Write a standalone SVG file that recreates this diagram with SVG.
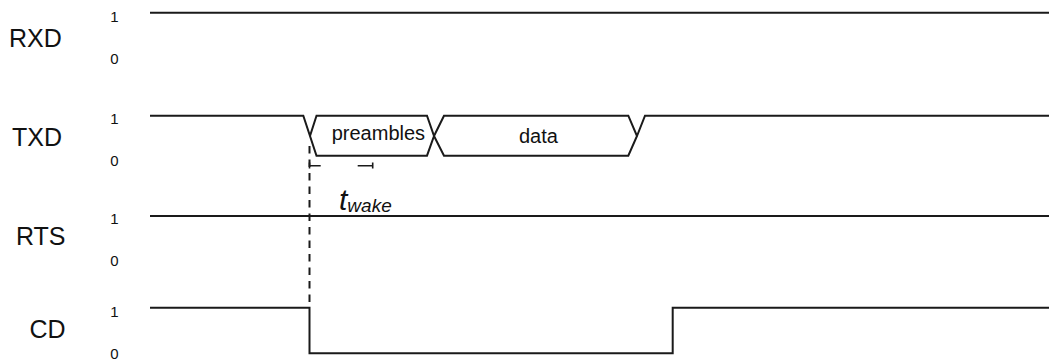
<svg xmlns="http://www.w3.org/2000/svg" width="1049" height="361" viewBox="0 0 1049 361">
<style>
  .sig { fill: none; stroke: #1a1a1a; stroke-width: 2; stroke-linejoin: miter; }
  .lbl { font-family: "Liberation Sans", Arial, sans-serif; font-size: 25px; fill: #111; }
  .lvl { font-family: "Liberation Sans", Arial, sans-serif; font-size: 15px; fill: #111; text-anchor: middle; }
  .inner { font-family: "Liberation Sans", Arial, sans-serif; font-size: 20px; fill: #111; }
  .dash { fill: none; stroke: #1a1a1a; stroke-width: 2; stroke-dasharray: 7.5 6; }
  .dim { fill: none; stroke: #1a1a1a; stroke-width: 1.6; }
</style>
<rect width="1049" height="361" fill="#ffffff"/>

<g id="RXD">
  <text class="lbl" x="9" y="46.7">RXD</text>
  <text class="lvl" x="114.5" y="22">1</text>
  <text class="lvl" x="114.5" y="63.5">0</text>
  <path class="sig" d="M150,12.7 H1049"/>
</g>

<g id="TXD">
  <text class="lbl" x="12" y="146">TXD</text>
  <text class="lvl" x="114.5" y="123.5">1</text>
  <text class="lvl" x="114.5" y="166">0</text>
  <path class="sig" d="M150,115.7 H303.3 L310,136"/>
  <g id="preambles">
    <path class="sig" d="M316.5,115.7 L310,136 L316.5,155.7 H427 L434,136 L427,115.7 Z"/>
    <text class="inner" x="331.7" y="140">preambles</text>
  </g>
  <g id="data">
    <path class="sig" d="M444,115.7 L434,136 L444,155.7 H628.3 L637,136 L628.3,115.7 Z"/>
    <text class="inner" x="519" y="143">data</text>
  </g>
  <path class="sig" d="M637,136 L645,115.7 H1049"/>
</g>

<g id="RTS">
  <text class="lbl" x="16" y="245">RTS</text>
  <text class="lvl" x="114.5" y="223.5">1</text>
  <text class="lvl" x="114.5" y="266">0</text>
  <path class="sig" d="M150,216 H1049"/>
</g>

<g id="CD">
  <text class="lbl" x="29.5" y="338">CD</text>
  <text class="lvl" x="114.5" y="317">1</text>
  <text class="lvl" x="114.5" y="358.5">0</text>
  <path class="sig" d="M150,307.7 H309.5 V353.3 H672.7 V307.7 H1049"/>
</g>

<g id="connectors">
  <path class="dash" d="M309.5,146 V307"/>
  <path class="dim" d="M309.5,162.5 V168.5 M309.5,165.7 H320.7 M357.7,165.7 H372.7 M372.7,162.5 V168.5"/>
</g>

<g id="twake">
  <text font-family="'Liberation Sans', Arial, sans-serif" font-style="italic" fill="#111" x="339" y="210"><tspan font-size="30">t</tspan><tspan font-size="19" y="211.7">wake</tspan></text>
</g>
</svg>
